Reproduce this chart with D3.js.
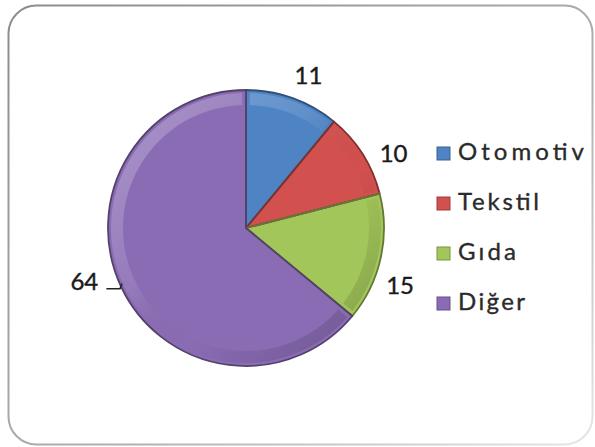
<!DOCTYPE html>
<html>
<head>
<meta charset="utf-8">
<script src="https://cdn.jsdelivr.net/npm/d3@7"></script>
<style>
  html, body { margin: 0; padding: 0; background: #fff; }
  svg { display: block; }
</style>
</head>
<body>
<svg id="chart" width="595" height="447"></svg>
<script>
// Sector shares (percent)
const categories = ["Otomotiv", "Tekstil", "Gıda", "Diğer"];
const values = [11, 10, 15, 64];
const colors = ["#4f84c4", "#d2504d", "#a3c65a", "#8a6cb4"];

const W = 595, H = 447;
const cx = 246, cy = 228, R = 138;

const svg = d3.select("#chart");
const defs = svg.append("defs");

// Frame gradient: darker top-left, fading toward bottom-right
const fg = defs.append("linearGradient").attr("id", "frameGrad")
  .attr("x1", 0).attr("y1", 0).attr("x2", 1).attr("y2", 1);
fg.append("stop").attr("offset", "0%").attr("stop-color", "#8c8c8c");
fg.append("stop").attr("offset", "60%").attr("stop-color", "#b0b0b0");
fg.append("stop").attr("offset", "100%").attr("stop-color", "#e6e6e6");

svg.append("rect")
  .attr("x", 8.5).attr("y", 5.5)
  .attr("width", 584).attr("height", 439)
  .attr("rx", 28).attr("ry", 28)
  .attr("fill", "#fff")
  .attr("stroke", "url(#frameGrad)")
  .attr("stroke-width", 2);

// Bevel shading for rim: light top-left, dark bottom-right (coords relative to pie centre)
const bg = defs.append("linearGradient").attr("id", "bevel")
  .attr("gradientUnits", "userSpaceOnUse")
  .attr("x1", -R).attr("y1", -R).attr("x2", R).attr("y2", R);
bg.append("stop").attr("offset", "0%").attr("stop-color", "#fff").attr("stop-opacity", 0.3);
bg.append("stop").attr("offset", "40%").attr("stop-color", "#fff").attr("stop-opacity", 0.1);
bg.append("stop").attr("offset", "60%").attr("stop-color", "#000").attr("stop-opacity", 0.0);
bg.append("stop").attr("offset", "100%").attr("stop-color", "#000").attr("stop-opacity", 0.22);

const pie = d3.pie().sort(null).value(d => d);
const arcs = pie(values);
const arc = d3.arc().innerRadius(0).outerRadius(R);
const rimArc = d3.arc().innerRadius(R - 15).outerRadius(R - 3);

const g = svg.append("g").attr("transform", `translate(${cx},${cy})`);

// Slices
g.selectAll("path.slice").data(arcs).enter().append("path")
  .attr("class", "slice")
  .attr("d", arc)
  .attr("fill", (d, i) => colors[i]);

// Rim highlight band inside each slice
g.selectAll("path.rim").data(arcs).enter().append("path")
  .attr("class", "rim")
  .attr("d", d => rimArc({startAngle: d.startAngle + 0.03, endAngle: d.endAngle - 0.03}))
  .attr("fill", "url(#bevel)");

// Dark slice outlines
g.selectAll("path.edge").data(arcs).enter().append("path")
  .attr("class", "edge")
  .attr("d", arc)
  .attr("fill", "none")
  .attr("stroke", (d, i) => d3.color(colors[i]).darker(1.4))
  .attr("stroke-width", 1.8)
  .attr("stroke-linejoin", "round");

// Value labels placed outside the pie along each slice's direction
const labelR = [166, 166, 164, 170];
const labelAngleShift = [0.04, 0.09, 0.13, 0.125]; // radians, nudges to avoid legend/overlap
const labelFont = "Lato, 'Open Sans', 'DejaVu Sans', sans-serif";

arcs.forEach((d, i) => {
  const a = (d.startAngle + d.endAngle) / 2 + labelAngleShift[i];
  const rr = labelR[i];
  const x = Math.sin(a) * rr;
  const y = -Math.cos(a) * rr;
  g.append("text")
    .attr("x", x).attr("y", y)
    .attr("text-anchor", "middle")
    .attr("dominant-baseline", "central")
    .attr("font-family", labelFont)
    .attr("font-size", 24)
    .attr("fill", "#1a1a1a")
    .attr("stroke", "#1a1a1a")
    .attr("stroke-width", 0.4)
    .text(values[i]);
  if (i === 3) {
    // Leader line from label to slice edge
    const edgeY = y + 8;
    const edgeX = -Math.sqrt(R * R - edgeY * edgeY);
    g.append("polyline")
      .attr("points", `${x + 22},${edgeY} ${edgeX - 2},${edgeY} ${edgeX},${edgeY - 5}`)
      .attr("fill", "none")
      .attr("stroke", "#222")
      .attr("stroke-width", 1.5);
  }
});

// Legend
const legend = svg.append("g").attr("transform", "translate(437,147)");
const rowH = 50;
const legendWidths = [126, 81, 58, 67];
categories.forEach((c, i) => {
  const row = legend.append("g").attr("transform", `translate(0,${i * rowH})`);
  row.append("rect")
    .attr("x", 0).attr("y", 0).attr("width", 13).attr("height", 13)
    .attr("fill", colors[i])
    .attr("stroke", d3.color(colors[i]).darker(0.8))
    .attr("stroke-width", 1);
  row.append("text")
    .attr("x", 21).attr("y", 13)
    .attr("font-family", labelFont)
    .attr("font-size", 24)
    .attr("fill", "#2a2a2a")
    .attr("stroke", "#2a2a2a")
    .attr("stroke-width", 0.35)
    .attr("textLength", legendWidths[i])
    .attr("lengthAdjust", "spacing")
    .text(c);
});
</script>
</body>
</html>
